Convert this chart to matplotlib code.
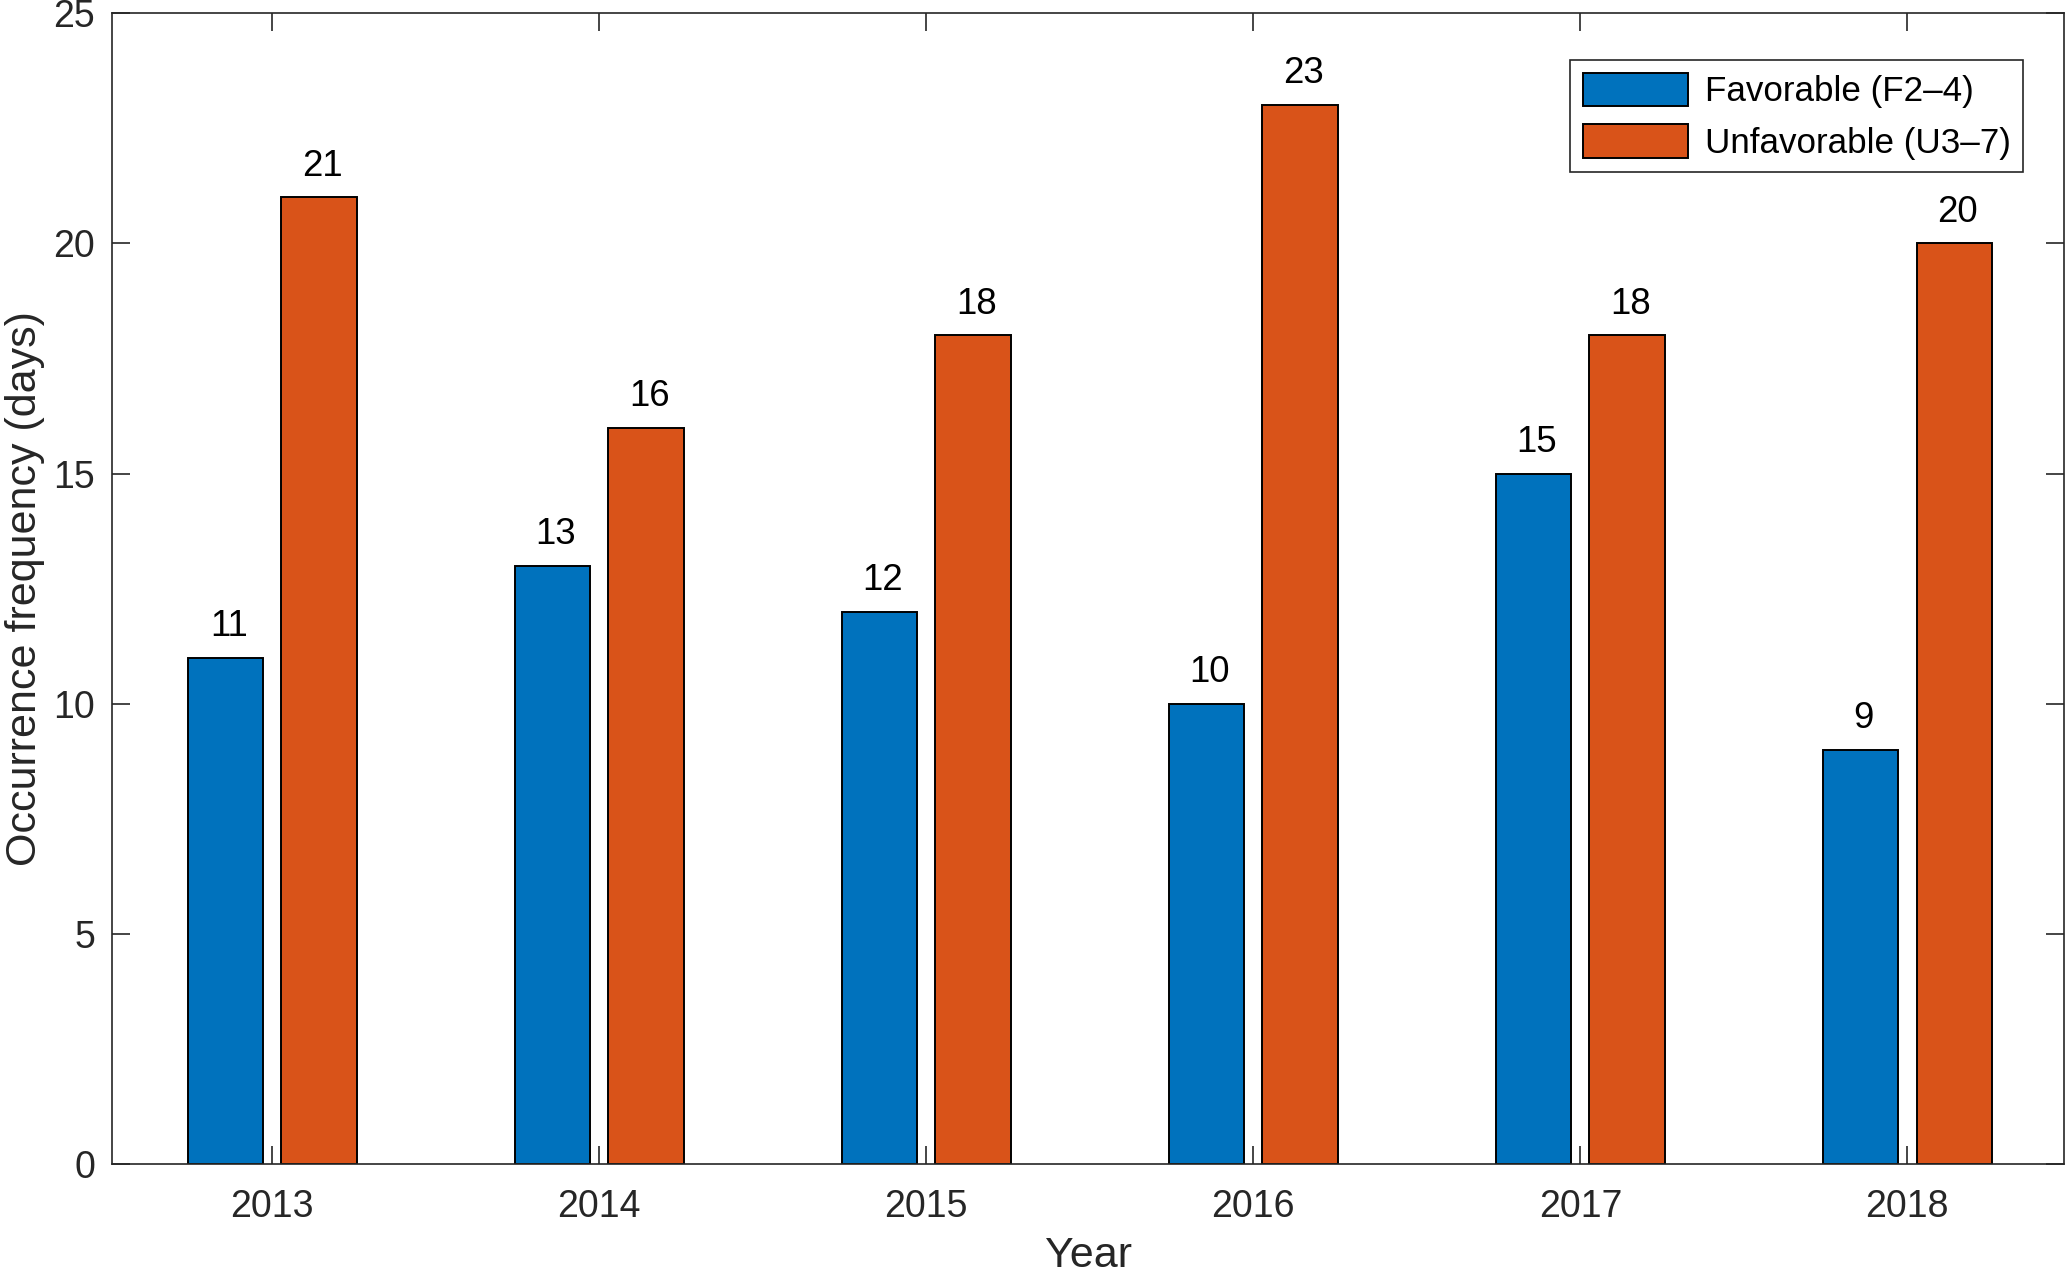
import numpy as np
import matplotlib.pyplot as plt

plt.rcParams['font.family'] = ['Liberation Sans', 'DejaVu Sans']

years = [2013, 2014, 2015, 2016, 2017, 2018]
favorable = [11, 13, 12, 10, 15, 9]
unfavorable = [21, 16, 18, 23, 18, 20]

blue = '#0072BD'
orange = '#D95319'
gray = '#262626'

fig = plt.figure(figsize=(10.335, 6.375), dpi=200)
ax = fig.add_axes([0.0542, 0.0868, 0.9445, 0.9029])

x = np.array(years)
w = 0.23
off = 0.143
b1 = ax.bar(x - off, favorable, w, color=blue, edgecolor='black', linewidth=0.7,
            label='Favorable (F2–4)')
b2 = ax.bar(x + off, unfavorable, w, color=orange, edgecolor='black', linewidth=0.7,
            label='Unfavorable (U3–7)')

for bars, vals in ((b1, favorable), (b2, unfavorable)):
    for r, v in zip(bars, vals):
        ax.text(r.get_x() + r.get_width() / 2 + 0.01, v + 0.3, str(v),
                ha='center', va='bottom', fontsize=13.2, color='black')

ax.set_xlim(2012.51, 2018.48)
ax.set_ylim(0, 25)
ax.set_xticks(years)
ax.set_yticks(np.arange(0, 26, 5))
ax.tick_params(direction='in', length=6.5, width=0.6, colors=gray, labelsize=13.5,
               top=True, right=True, pad=6)
ax.tick_params(axis='x', pad=9)
for s in ax.spines.values():
    s.set_color(gray)
    s.set_linewidth(0.6)

ax.set_xlabel('Year', fontsize=15.5, color=gray, labelpad=4)
ax.set_ylabel('Occurrence frequency (days)', fontsize=15.5, color=gray)
ax.yaxis.set_label_coords(-0.0445, 0.5)
ax.yaxis.label.set_va('center')

leg = ax.legend(loc='upper right', bbox_to_anchor=(0.979, 0.959), fontsize=12.6,
                frameon=True, fancybox=False, edgecolor=gray, framealpha=1,
                handlelength=3.0, handleheight=1.1, borderpad=0.35,
                labelspacing=0.45, handletextpad=0.5, borderaxespad=0)
leg.get_frame().set_linewidth(0.6)

fig.savefig('out.png', dpi=200, facecolor='white')
